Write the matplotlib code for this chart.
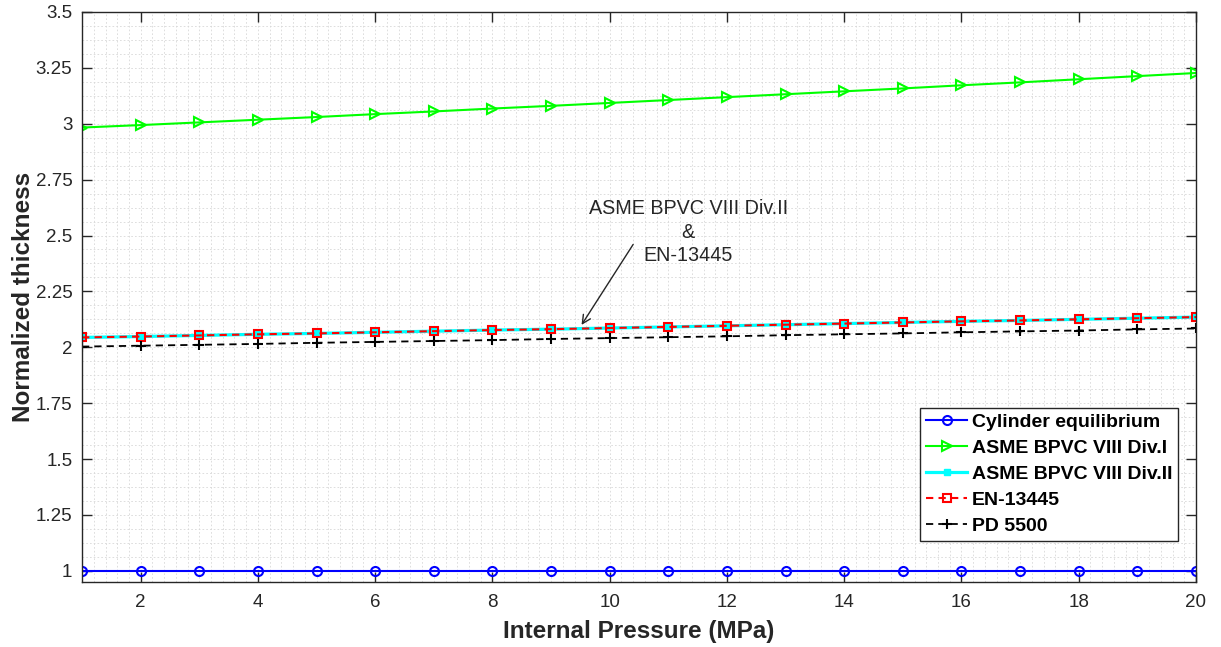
import matplotlib

matplotlib.use("Agg")
import matplotlib.pyplot as plt
import numpy as np
from matplotlib.ticker import MultipleLocator

plt.rcParams["font.family"] = ["Liberation Sans", "DejaVu Sans"]

# Internal pressure (MPa)
pressure = np.arange(1, 21)

# Normalized wall thickness per design code
cylinder_eq = [1.0] * 20
asme_div1 = [2.983, 2.994, 3.006, 3.018, 3.030, 3.043, 3.055, 3.068, 3.080, 3.093,
             3.106, 3.119, 3.132, 3.145, 3.158, 3.172, 3.185, 3.199, 3.213, 3.227]
asme_div2 = [2.044, 2.048, 2.053, 2.058, 2.062, 2.067, 2.072, 2.077, 2.081, 2.086,
             2.091, 2.096, 2.101, 2.106, 2.111, 2.116, 2.120, 2.125, 2.130, 2.135]
en13445 = asme_div2
pd5500 = [2.003, 2.007, 2.011, 2.015, 2.020, 2.024, 2.028, 2.032, 2.037, 2.041,
          2.045, 2.049, 2.054, 2.058, 2.062, 2.067, 2.071, 2.075, 2.080, 2.084]

labels = ["Cylinder equilibrium", "ASME BPVC VIII Div.I", "ASME BPVC VIII Div.II",
          "EN-13445", "PD 5500"]
yticks = [1, 1.25, 1.5, 1.75, 2, 2.25, 2.5, 2.75, 3, 3.25, 3.5]
ytick_labels = ["1", "1.25", "1.5", "1.75", "2", "2.25", "2.5", "2.75", "3", "3.25", "3.5"]

axis_col = "#262626"

fig = plt.figure(figsize=(12.21, 6.47), dpi=100)
ax = fig.add_axes([0.0672, 0.1005, 0.9123, 0.881])

ax.plot(pressure, cylinder_eq, color="blue", lw=1.5, marker="o", ms=6.5,
        mfc="none", mew=1.5, label=labels[0])
ax.plot(pressure, asme_div1, color=(0, 1, 0), lw=1.5, marker=">", ms=7,
        mfc="none", mew=1.5, label=labels[1])
ax.plot(pressure, asme_div2, color="cyan", lw=2.3, marker="s", ms=4,
        mfc="cyan", mec="cyan", label=labels[2])
ax.plot(pressure, en13445, color="red", lw=1.5, ls="--", dashes=(3.5, 2.5),
        marker="s", ms=5.5, mfc="none", mew=1.5, label=labels[3])
ax.plot(pressure, pd5500, color="black", lw=1.3, ls="--", dashes=(4, 2.8),
        marker="+", ms=7.5, mew=1.5, label=labels[4])

ax.set_xlim(1, 20)
ax.set_ylim(0.95, 3.5)
ax.xaxis.set_major_locator(MultipleLocator(2))
ax.xaxis.set_minor_locator(MultipleLocator(0.2))
ax.yaxis.set_minor_locator(MultipleLocator(0.0625))
ax.set_yticks(yticks)
ax.set_yticklabels(ytick_labels)

ax.grid(which="both", color="#d8d8d8", ls=(0, (2, 2.5)), lw=0.6)
ax.set_axisbelow(True)
ax.tick_params(which="major", direction="in", length=7, width=1, top=True, right=True,
               colors=axis_col, labelsize=13.5)
ax.tick_params(axis="x", which="major", pad=9)
ax.tick_params(axis="y", which="major", pad=7)
ax.tick_params(which="minor", length=0, top=True, right=True)
for s in ax.spines.values():
    s.set_color(axis_col)
    s.set_linewidth(1)

ax.set_xlabel("Internal Pressure (MPa)", fontsize=17.5, fontweight="bold", color=axis_col,
              labelpad=6)
ax.set_ylabel("Normalized thickness", fontsize=17.5, fontweight="bold", color=axis_col,
              labelpad=0.5)

# shared curve callout
ax.text(11.34, 2.514, "ASME BPVC VIII Div.II\n&\nEN-13445", fontsize=14.2, color=axis_col,
        ha="center", va="center", linespacing=1.3)
ax.annotate("", xy=(9.52, 2.10), xytext=(10.40, 2.46),
            arrowprops=dict(arrowstyle="->", color=axis_col, lw=1, mutation_scale=15,
                            shrinkA=0, shrinkB=0))

leg = ax.legend(loc="lower right", bbox_to_anchor=(0.984, 0.072),
                prop={"weight": "bold", "size": 14}, frameon=True, fancybox=False,
                edgecolor=axis_col, framealpha=1, handlelength=2.1, labelspacing=0.43,
                borderpad=0.3, handletextpad=0.25, borderaxespad=0)
leg.get_frame().set_linewidth(1)

fig.savefig("out.png", dpi=100)
